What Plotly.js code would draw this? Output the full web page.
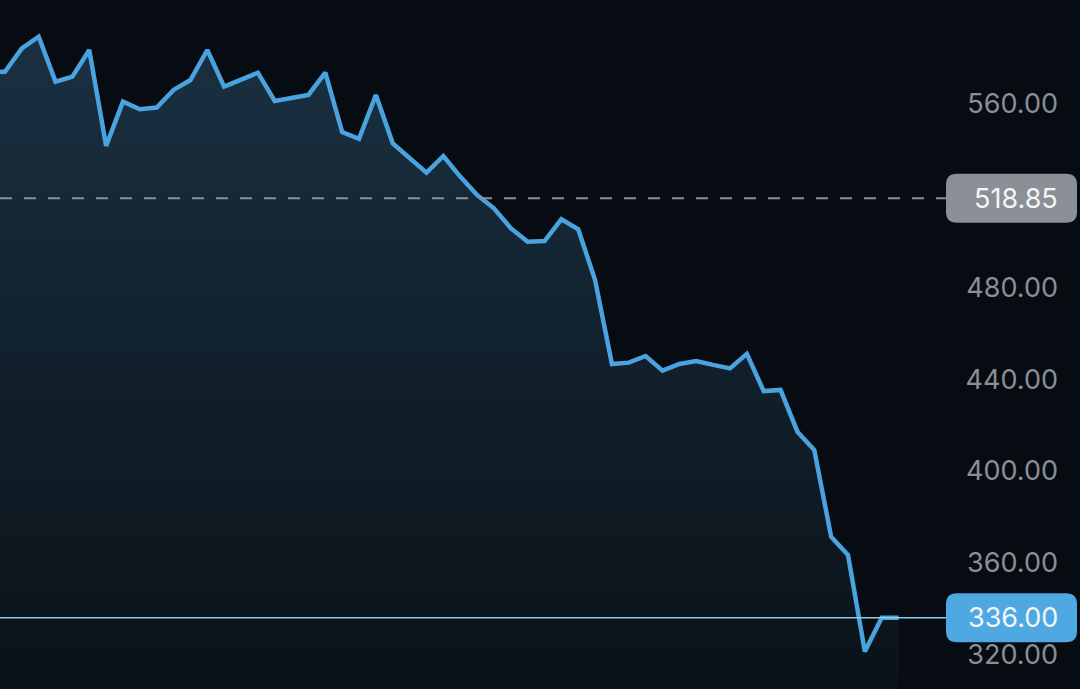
<!DOCTYPE html>
<html>
<head>
<meta charset="utf-8">
<script src="https://cdn.plot.ly/plotly-3.0.1.min.js"></script>
<style>
  html, body { margin: 0; padding: 0; background: #070c12; }
  #chart { width: 1080px; height: 689px; }
</style>
</head>
<body>
<div id="chart"></div>
<script>
  // closing prices, one per step (first point sits just off the left edge)
  const prices = [
    574.0, 574.0, 584.2, 589.3, 569.7, 571.9, 583.5, 541.7, 561.0, 557.7,
    558.4, 566.1, 570.4, 583.5, 567.5, 570.4, 573.6, 561.3, 562.5, 563.9,
    573.6, 547.7, 544.8, 563.9, 542.8, 536.3, 530.0, 537.3, 528.3, 520.3,
    514.5, 505.8, 499.9, 500.2, 509.7, 505.3, 483.2, 446.6, 447.2, 450.1,
    443.7, 446.6, 447.9, 446.2, 444.7, 451.0, 434.8, 435.3, 417.1, 409.1,
    371.3, 363.3, 321.2, 336.0, 336.0
  ];
  const steps = prices.map((_, i) => i);
  const tickValues = [320, 360, 400, 440, 480, 560];
  const referencePrice = 518.85;
  const lastPrice = 336.0;

  const lineBlue = '#4aa3df';
  const labelFont = 'Inter, "Liberation Sans", sans-serif';

  function badgePath(left, right, half, r) {
    return `M ${left + r},${half} L ${right - r},${half} Q ${right},${half} ${right},${half - r} ` +
      `L ${right},${-half + r} Q ${right},${-half} ${right - r},${-half} ` +
      `L ${left + r},${-half} Q ${left},${-half} ${left},${-half + r} ` +
      `L ${left},${half - r} Q ${left},${half} ${left + r},${half} Z`;
  }

  function badge(value, color) {
    return {
      type: 'path', layer: 'above',
      xref: 'paper', yref: 'y',
      xsizemode: 'pixel', ysizemode: 'pixel',
      xanchor: 1, yanchor: value,
      path: badgePath(-134, -3, 24.5, 11),
      fillcolor: color, line: { width: 0 }
    };
  }

  function badgeLabel(value) {
    return {
      xref: 'paper', yref: 'y', x: 1, y: value,
      xanchor: 'right', yanchor: 'middle', xshift: -20,
      text: value.toFixed(2), showarrow: false,
      font: { family: labelFont, size: 27, color: '#f3f5f7' }
    };
  }

  const trace = {
    x: steps,
    y: prices,
    type: 'scatter',
    mode: 'lines',
    line: { color: lineBlue, width: 4.5 },
    fill: 'tozeroy',
    fillgradient: {
      type: 'vertical',
      start: 305,
      stop: 590,
      colorscale: [[0, '#0b1218'], [0.5, '#11202c'], [1, '#1a3143']]
    },
    hoverinfo: 'skip'
  };

  const layout = {
    width: 1080,
    height: 689,
    margin: { l: 0, r: 0, t: 0, b: 0 },
    paper_bgcolor: '#070c12',
    plot_bgcolor: '#070c12',
    showlegend: false,
    xaxis: {
      range: [0.706, 64.76],
      visible: false,
      fixedrange: true
    },
    yaxis: {
      range: [304.9, 605.3],
      side: 'right',
      ticklabelposition: 'inside',
      ticklabelstandoff: 19,
      tickvals: tickValues,
      ticktext: tickValues.map((v) => v.toFixed(2)),
      ticks: '',
      showgrid: false,
      zeroline: false,
      showline: false,
      tickfont: { family: labelFont, size: 27, color: '#8a8f96' },
      fixedrange: true
    },
    shapes: [
      {
        type: 'line', layer: 'above', xref: 'paper', yref: 'y',
        x0: 0, x1: 0.9, y0: referencePrice, y1: referencePrice,
        line: { color: '#8a9099', width: 2, dash: '12px,12px' }
      },
      {
        type: 'line', layer: 'above', xref: 'paper', yref: 'y',
        x0: 0, x1: 0.9, y0: lastPrice, y1: lastPrice,
        line: { color: '#8ccaf0', width: 1.5 }
      },
      badge(referencePrice, '#8b9097'),
      badge(lastPrice, '#4ea8e2')
    ],
    annotations: [badgeLabel(referencePrice), badgeLabel(lastPrice)]
  };

  Plotly.newPlot('chart', [trace], layout, { displayModeBar: false, staticPlot: true });
</script>
</body>
</html>
